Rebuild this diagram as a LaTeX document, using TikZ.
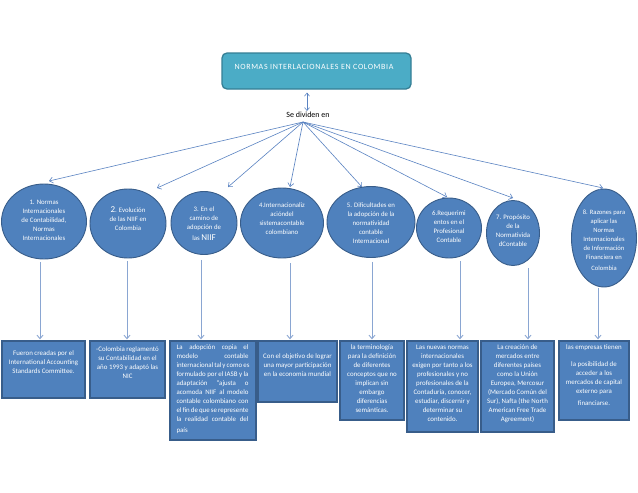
\documentclass[tikz,border=0pt]{standalone}
\usepackage{fontspec}
\setmainfont{Carlito}
\usetikzlibrary{shapes.geometric,arrows.meta}
\definecolor{obl}{HTML}{4F81BD}
\definecolor{obd}{HTML}{385D8A}
\definecolor{tealf}{HTML}{4BACC6}
\definecolor{teald}{HTML}{357F95}
\definecolor{lnk}{HTML}{5A83C2}
\definecolor{vln}{HTML}{8AA6D2}
\begin{document}
\begin{tikzpicture}[x=1pt,y=-1pt,
  circ/.style={ellipse, draw=obd, line width=0.9pt, fill=obl, inner sep=0pt},
  ctext/.style={text=white, align=center, font=\fontsize{6.8}{9}\selectfont, inner sep=0pt},
  bbox/.style={draw=obd, line width=1.3pt, fill=obl, inner sep=0pt},
  btext/.style={text=white, align=center, font=\fontsize{6.9}{9}\selectfont, inner sep=0pt, anchor=north},
  fan/.style={draw=lnk, line width=0.6pt, -{Straight Barb[length=3.5pt,width=6pt]}},
  varrow/.style={draw=vln, line width=0.9pt, -{Straight Barb[length=3.5pt,width=6pt]}},
  dbl/.style={draw=lnk, line width=0.6pt, {Straight Barb[length=3pt,width=5pt]}-{Straight Barb[length=3pt,width=5pt]}}]
\useasboundingbox (0,0) rectangle (638,493);
\fill[white] (0,0) rectangle (638,493);

% top box
\node[draw=teald, line width=1.3pt, fill=tealf, rounded corners=5pt, minimum width=189pt, minimum height=36pt, inner sep=0pt] (tb) at (316.5,71) {};
\node[text=white, inner sep=0pt, font=\fontsize{8}{9}\selectfont\addfontfeature{LetterSpace=8}] (tt) at (314,67) {NORMAS INTERLACIONALES EN COLOMBIA};
\node[inner sep=1pt, font=\fontsize{8}{9}\selectfont] (sd) at (308,115) {Se dividen en};
\draw[dbl] ([xshift=-9.5pt,yshift=-3pt]tb.south) -- ([xshift=-1pt]sd.north);

% circles
\node[circ, minimum width=85pt, minimum height=75pt] (c1) at (44,221.5) {};
\node[circ, minimum width=76pt, minimum height=69pt] (c2) at (128,223.5) {};
\node[circ, minimum width=66pt, minimum height=63pt] (c3) at (204,223) {};
\node[circ, minimum width=83pt, minimum height=70pt] (c4) at (282,223) {};
\node[circ, minimum width=88pt, minimum height=71pt] (c5) at (371,222) {};
\node[circ, minimum width=65pt, minimum height=60pt] (c6) at (449,228) {};
\node[circ, minimum width=53pt, minimum height=65pt] (c7) at (513,233) {};
\node[circ, minimum width=65pt, minimum height=98pt] (c8) at (604,238) {};

\node[ctext] (ct1) at (44,220.5) {1. Normas\\Internacionales\\de Contabilidad,\\Normas\\Internacionales};
\node[ctext] (ct2) at (128,218.5) {{\fontsize{9}{9}\selectfont 2}. Evolución\\de las NIIF en\\Colombia};
\node[ctext] (ct3) at (204,224) {3. En el\\camino de\\adopción de\\[2pt]las {\fontsize{9}{9}\selectfont NIIF}};
\node[ctext] (ct4) at (282,218.5) {4.Internacionaliz\\acióndel\\sistemacontable\\colombiano};
\node[ctext] (ct5) at (371,223) {5. Dificultades en\\la adopción de la\\normatividad\\contable\\Internacional};
\node[ctext] (ct6) at (449,227) {6.Requerimi\\entos en el\\Profesional\\Contable};
\node[ctext] (ct7) at (513,231) {7. Propósito\\de la\\Normativida\\dContable};
\node[ctext, font=\fontsize{6.6}{9}\selectfont] (ct8) at (604,240) {8. Razones para\\aplicar las\\Normas\\Internacionales\\de Información\\Financiera en\\[2pt]Colombia};

% fan arrows
\coordinate (hub) at (303,122);
\coordinate (t1) at (49,181);
\coordinate (t2) at (157,188);
\coordinate (t3) at (228,187);
\coordinate (t4) at (290,187);
\coordinate (t5) at (362,187);
\coordinate (t6) at (447,197);
\coordinate (t7) at (513,198);
\coordinate (t8) at (603,188);
\foreach \i in {1,...,8} {\draw[fan] (hub) -- (t\i);}

% boxes
\node[bbox, minimum width=83pt, minimum height=57pt] (b1) at (43.5,369.5) {};
\node[bbox, minimum width=75pt, minimum height=57pt] (b2) at (127.5,369.5) {};
\node[bbox, minimum width=86pt, minimum height=99pt] (b3) at (213,390.5) {};
\node[bbox, minimum width=79pt, minimum height=61pt] (b4) at (297.5,371.5) {};
\node[bbox, minimum width=64pt, minimum height=79pt] (b5) at (372,380.5) {};
\node[bbox, minimum width=71pt, minimum height=91pt] (b6) at (442.5,386.5) {};
\node[bbox, minimum width=73pt, minimum height=91pt] (b7) at (517.5,386.5) {};
\node[bbox, minimum width=70pt, minimum height=79pt] (b8) at (594,380.5) {};

\node[btext] (bt1) at ([yshift=-10.5pt]b1.north) {Fueron creadas por el\\International Accounting\\Standards Committee.};
\node[btext] (bt2) at ([yshift=-6.5pt]b2.north) {-Colombia reglamentó\\su Contabilidad en el\\año 1993 y adaptó las\\NIC};
\node[btext, align=left] (bt3) at ([yshift=-4.5pt,xshift=-0.5pt]b3.north) {%
\makebox[72pt][s]{La adopción copia el}\\
\makebox[72pt][s]{modelo contable}\\
\makebox[72pt][s]{internacional tal y como es}\\
\makebox[72pt][s]{formulado por el IASB y la}\\
\makebox[72pt][s]{adaptación “ajusta o}\\
\makebox[72pt][s]{acomoda NIIF al modelo}\\
\makebox[72pt][s]{contable colombiano con}\\
\makebox[72pt][s]{el fin de que se represente}\\
\makebox[72pt][s]{la realidad contable del}\\[2pt]
\makebox[72pt][l]{país}};
\node[btext] (bt4) at ([yshift=-13.5pt]b4.north) {Con el objetivo de lograr\\una mayor participación\\en la economía mundial};
\node[btext] (bt5) at ([yshift=-4.5pt]b5.north) {la terminología\\para la definición\\de diferentes\\conceptos que no\\implican sin\\embargo\\diferencias\\semánticas.};
\node[btext] (bt6) at ([yshift=-4.5pt]b6.north) {Las nuevas normas\\internacionales\\exigen por tanto a los\\profesionales y no\\profesionales de la\\Contaduría, conocer,\\estudiar, discernir y\\determinar su\\contenido.};
\node[btext] (bt7) at ([yshift=-4.5pt]b7.north) {La creación de\\mercados entre\\diferentes países\\como la Unión\\Europea, Mercosur\\(Mercado Común del\\Sur), Nafta (the North\\American Free Trade\\Agreement)};
\node[btext] (bt8) at ([yshift=-4.5pt]b8.north) {las empresas tienen\\[8pt]la posibilidad de\\acceder a los\\mercados de capital\\externo para\\[3pt]financiarse.};

% vertical connectors
\draw[varrow] ([xshift=-4pt,yshift=-3pt]c1.south) -- ([xshift=-3.5pt,yshift=1pt]b1.north);
\draw[varrow] ([xshift=-1pt,yshift=-3pt]c2.south) -- ([xshift=-0.5pt,yshift=1pt]b2.north);
\draw[varrow] ([xshift=-3pt,yshift=-5pt]c3.south) -- ([xshift=-12pt,yshift=1pt]b3.north);
\draw[varrow] ([xshift=8pt,yshift=-5pt]c4.south) -- ([xshift=-7.5pt,yshift=1pt]b4.north);
\draw[varrow] ([xshift=1pt,yshift=-4pt]c5.south) -- ([xshift=0pt,yshift=1pt]b5.north);
\draw[varrow] ([xshift=11pt,yshift=-3pt]c6.south) -- ([xshift=17.5pt,yshift=1pt]b6.north);
\draw[varrow] ([xshift=15pt,yshift=-2pt]c7.south) -- ([xshift=10.5pt,yshift=1pt]b7.north);
\draw[varrow] ([xshift=-6pt,yshift=-1pt]c8.south) -- ([xshift=4pt,yshift=1pt]b8.north);
\end{tikzpicture}
\end{document}
